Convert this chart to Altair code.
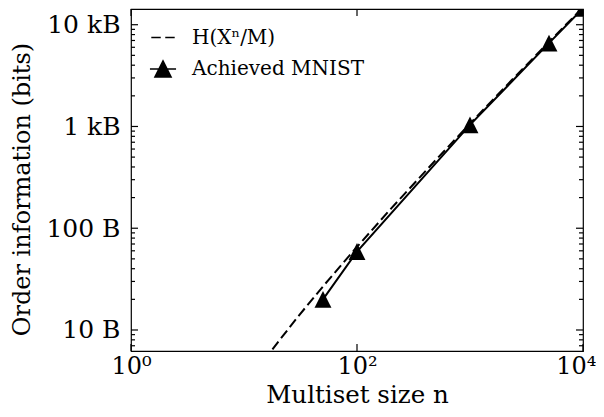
import altair as alt
import pandas as pd

# ---- data ----
h_n = [15, 20, 30, 50, 70, 100, 200, 500, 1000, 2000, 5000, 10000]
h_bytes = [5.0, 7.6, 13.5, 26.8, 41.5, 65.6, 156, 471, 1066, 2382, 6780, 14800]
mnist_n = [50, 100, 1000, 5000, 10000]
mnist_bytes = [20, 59, 1037, 6590, 14500]

series_names = ["H(Xⁿ/M)", "Achieved MNIST"]

x_tick_vals = [1, 100, 10000]
x_tick_labels = ["10⁰", "10²", "10⁴"]
y_tick_vals = [10, 100, 1000, 10000]
y_tick_labels = ["10 B", "100 B", "1 kB", "10 kB"]
y_minor_vals = [7, 8, 9, 20, 30, 40, 50, 60, 70, 80, 90,
                200, 300, 400, 500, 600, 700, 800, 900,
                2000, 3000, 4000, 5000, 6000, 7000, 8000, 9000]

FONT = "DejaVu Serif"
W, H = 452, 342
MAJOR, MINOR = 7, 4


def label_expr(vals, labels):
    expr = "''"
    for v, l in reversed(list(zip(vals, labels))):
        expr = f"datum.value == {v} ? '{l}' : ({expr})"
    return expr


h_df = pd.DataFrame({"n": h_n, "bytes": h_bytes})
m_df = pd.DataFrame({"n": mnist_n, "bytes": mnist_bytes,
                     "series": [series_names[1]] * len(mnist_n)})
xt_df = pd.DataFrame({"v": x_tick_vals})
yt_df = pd.DataFrame({"v": y_tick_vals})
ym_df = pd.DataFrame({"v": y_minor_vals})

xs = alt.Scale(type="log", domain=[1, 10000], nice=False)
ys = alt.Scale(type="log", domain=[6.216, 14270], nice=False)

common = dict(grid=False, domain=False, ticks=False, tickSize=0, labelColor="black",
              titleColor="black", labelFont=FONT, titleFont=FONT,
              titleFontWeight="normal", labelFlush=False, labelOverlap=False)

last_x = x_tick_vals[-1]
x_main = alt.Axis(orient="bottom", values=x_tick_vals,
                  labelExpr=label_expr(x_tick_vals, x_tick_labels),
                  labelAlign=alt.condition(f"datum.value == {last_x}",
                                           alt.value("right"), alt.value("center")),
                  labelOffset=alt.condition(f"datum.value == {last_x}",
                                            alt.value(13), alt.value(0)),
                  labelPadding=3, labelFontSize=24,
                  title="Multiset size n", titleFontSize=24.5,
                  titleBaseline="alphabetic", titleY=51, **common)
y_main = alt.Axis(orient="left", values=y_tick_vals,
                  labelExpr=label_expr(y_tick_vals, y_tick_labels),
                  labelPadding=11, labelFontSize=25,
                  title="Order information (bits)", titleFontSize=24,
                  titleAngle=-90, titleAlign="center", titleBaseline="alphabetic",
                  titleX=-102, titleY=180, **common)

dashed = alt.Chart(h_df).mark_line(color="black", strokeWidth=2,
                                   strokeDash=[9.8, 4.3], clip=True).encode(
    x=alt.X("n:Q", scale=xs, axis=x_main),
    y=alt.Y("bytes:Q", scale=ys, axis=y_main),
)

solid = alt.Chart(m_df).mark_line(color="black", strokeWidth=2, clip=True).encode(
    x=alt.X("n:Q", scale=xs, axis=None),
    y=alt.Y("bytes:Q", scale=ys, axis=None),
)

points = alt.Chart(m_df).mark_point(filled=True, color="black", opacity=1,
                                    shape="M0,-1L1,1H-1Z", size=285,
                                    clip=True).encode(
    x=alt.X("n:Q", scale=xs, axis=None),
    y=alt.Y("bytes:Q", scale=ys, axis=None),
)

legend_shapes = ["M-1.3,0H-0.25M0.25,0H1.3",
                 "M-1.45,0H1.45M0,-0.9L0.9,0.9H-0.9Z"]

legend_layer = alt.Chart(m_df).transform_filter("false").mark_point(
    filled=True, fill="black", stroke="black", strokeWidth=2, clip=True
).encode(
    x=alt.X("n:Q", scale=xs, axis=None),
    y=alt.Y("bytes:Q", scale=ys, axis=None),
    shape=alt.Shape("series:N",
                    scale=alt.Scale(domain=series_names, range=legend_shapes),
                    legend=alt.Legend(orient="none", legendX=22, legendY=18.5,
                                      title=None, symbolSize=324, symbolOpacity=1,
                                      labelFont=FONT, labelFontSize=20,
                                      labelColor="black", labelOffset=19,
                                      labelLimit=400, rowPadding=9.5, padding=0)),
)


def y_ticks(df, x0, x1):
    return alt.Chart(df).mark_rule(color="black", strokeWidth=1.2).encode(
        y=alt.Y("v:Q", scale=ys, axis=None),
        x=alt.value(x0), x2=alt.value(x1),
    )


def x_ticks(df, y0, y1):
    return alt.Chart(df).mark_rule(color="black", strokeWidth=1.2).encode(
        x=alt.X("v:Q", scale=xs, axis=None),
        y=alt.value(y0), y2=alt.value(y1),
    )


tick_layers = [
    y_ticks(yt_df, 0, MAJOR), y_ticks(ym_df, 0, MINOR),
    y_ticks(yt_df, W - MAJOR, W), y_ticks(ym_df, W - MINOR, W),
    x_ticks(xt_df, H - MAJOR, H), x_ticks(xt_df, 0, MAJOR),
]

chart = alt.layer(dashed, solid, points, legend_layer, *tick_layers).resolve_axis(
    x="independent", y="independent"
).properties(
    width=W, height=H,
    padding={"left": 123, "top": 1, "right": 13, "bottom": 58},
    autosize=alt.AutoSizeParams(type="none"),
    background="white",
).configure_view(stroke="black", strokeWidth=1.2)

chart.save("out.html", embed_options={"renderer": "svg", "actions": False})
